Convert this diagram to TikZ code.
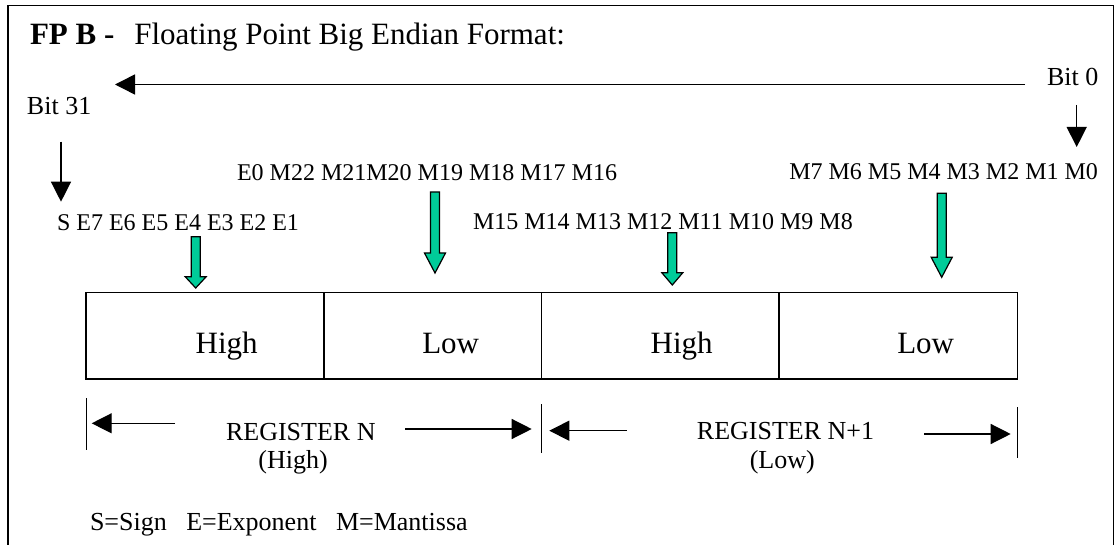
\documentclass[tikz,border=0pt]{standalone}
\usepackage{fontspec}
\setmainfont{Liberation Serif}
\usetikzlibrary{arrows.meta}
\definecolor{seagreen}{RGB}{0,204,153}
\tikzset{
  lbl/.style={inner sep=0pt, outer sep=0pt, font=\fontsize{26}{30}\selectfont},
  titlelbl/.style={inner sep=0pt, outer sep=0pt, font=\fontsize{31}{36}\selectfont},
  bitlbl/.style={inner sep=0pt, outer sep=0pt, font=\fontsize{24}{28}\selectfont},
  celltxt/.style={inner sep=0pt, outer sep=0pt, font=\fontsize{31}{36}\selectfont},
  cellbox/.style={draw, line width=1.3pt, inner sep=0pt, outer sep=0pt, minimum height=86.3pt},
  blk/.style={-{Triangle[length=20pt,width=20pt]}, line width=1.5pt},
  tickline/.style={line width=1.3pt},
  garrow/.style={fill=seagreen, draw=black, line width=1.2pt, line join=miter},
}
\newcommand\greenarrow[6]{%
  \draw[garrow] (#1-#5,#2) -- (#1+#5,#2) -- (#1+#5,#3) -- (#1+#6,#3) -- (#1,#4)
     -- (#1-#6,#3) -- (#1-#5,#3) -- cycle;}
\begin{document}
\begin{tikzpicture}[x=1pt,y=-1pt]
\useasboundingbox (0,0) rectangle (1116,545);
% frame (open at bottom)
\draw[line width=1.8pt] (8,545) -- (8,5.5) -- (1113.5,5.5) -- (1113.5,545);
% title
\node[titlelbl, anchor=base west] (title) at (30,45) {\textbf{FP B -}\hspace{20pt}Floating Point Big Endian Format:};
% bit direction
\node[lbl, anchor=base west] (bit0) at (1047,86) {Bit 0};
\node[lbl, anchor=base west] (bit31) at (27,115) {Bit 31};
\coordinate (longs) at (1025,84.5);
\coordinate (longe) at (115,84.5);
\draw[blk] (longs) -- (longe);
\coordinate (b31s) at (61,141.7);
\coordinate (b31e) at (61,201.7);
\draw[blk, line width=1.3pt] (b31s) -- (b31e);
\coordinate (b0s) at (1076.7,105);
\coordinate (b0e) at (1076.7,147);
\draw[blk, line width=1.3pt] (b0s) -- (b0e);
% bit strings
\node[bitlbl, anchor=base west] (sstr) at (57,231) {S E7 E6 E5 E4 E3 E2 E1};
\node[bitlbl, anchor=base west] (e0str) at (237,181) {E0 M22 M21M20 M19 M18 M17 M16};
\node[bitlbl, anchor=base west] (m15str) at (473,229.5) {M15 M14 M13 M12 M11 M10 M9 M8};
\node[bitlbl, anchor=base east] (m7str) at (1098,180) {M7 M6 M5 M4 M3 M2 M1 M0};
% green arrows
\greenarrow{195.7}{236.7}{276.7}{288}{4.5}{10.5}
\greenarrow{435}{192}{253}{273}{4.5}{10.5}
\greenarrow{672.3}{232.7}{272.7}{285}{4.5}{10.5}
\greenarrow{941.7}{193.3}{257.3}{277.3}{4.5}{10.5}
% cells
\node[cellbox, minimum width=238pt] (c1) at (205,335.85) {};
\node[cellbox, minimum width=217.7pt] (c2) at (432.85,335.85) {};
\node[cellbox, minimum width=237.3pt] (c3) at (660.35,335.85) {};
\node[cellbox, minimum width=238.3pt] (c4) at (898.15,335.85) {};
\node[celltxt, anchor=base] (h1) at (226.7,353.5) {High};
\node[celltxt, anchor=base] (l1) at (450.7,353.5) {Low};
\node[celltxt, anchor=base] (h2) at (681.7,353.5) {High};
\node[celltxt, anchor=base] (l2) at (925.7,353.5) {Low};
% register spans
\draw[tickline] (86.3,398) -- (86.3,450);
\draw[tickline] (541.7,404) -- (541.7,453);
\draw[tickline] (1017.3,407) -- (1017.3,458);
\node[lbl, anchor=base] (regn) at (300.8,440) {REGISTER N};
\node[lbl, anchor=base] (regnh) at (293,468) {(High)};
\node[lbl, anchor=base] (regn1) at (785.5,439.5) {REGISTER N+1};
\node[lbl, anchor=base] (regn1l) at (782.3,468) {(Low)};
\coordinate (a1s) at (175,423.3);  \coordinate (a1e) at (91.7,423.3);
\coordinate (a2s) at (405,429);    \coordinate (a2e) at (531.7,429);
\coordinate (a3s) at (626.7,430.7);\coordinate (a3e) at (549.3,430.7);
\coordinate (a4s) at (924,434);    \coordinate (a4e) at (1010.7,434);
\draw[blk, line width=1.3pt] (a1s) -- (a1e);
\draw[blk, line width=1.3pt] (a2s) -- (a2e);
\draw[blk, line width=1.3pt] (a3s) -- (a3e);
\draw[blk, line width=1.3pt] (a4s) -- (a4e);
% legend
\node[lbl, anchor=base west] (legend) at (90,530) {S=Sign\ \ \ E=Exponent\ \ \ M=Mantissa};
\end{tikzpicture}
\end{document}
